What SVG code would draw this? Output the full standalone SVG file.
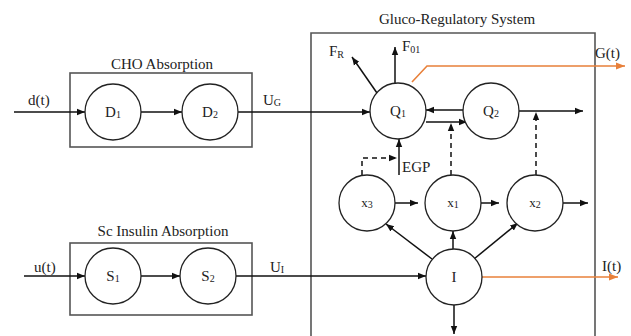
<svg xmlns="http://www.w3.org/2000/svg" width="631" height="336" viewBox="0 0 631 336">
  <defs>
    <marker id="arr" viewBox="0 0 10 10" refX="10" refY="5" markerWidth="8" markerHeight="8" markerUnits="userSpaceOnUse" orient="auto">
      <path d="M0,1 L10,5 L0,9 z" fill="#111"/>
    </marker>
    <marker id="arrO" viewBox="0 0 10 10" refX="10" refY="5" markerWidth="9" markerHeight="9" markerUnits="userSpaceOnUse" orient="auto">
      <path d="M0,1 L10,5 L0,9 z" fill="#e8803a"/>
    </marker>
  </defs>
  <style>
    text { font-family: "Liberation Serif", "Times New Roman", serif; fill: #222; }
    .title { font-size: 15px; text-anchor: middle; }
    .lbl { font-size: 15px; }
    .node { font-size: 15px; text-anchor: middle; }
    .sub { font-size: 10px; }
    .box { fill: none; stroke: #555; stroke-width: 1.6; }
    circle { fill: #fff; stroke: #222; stroke-width: 1.3; }
    .c { fill: none; stroke: #111; stroke-width: 1.5; }
    .d { fill: none; stroke: #111; stroke-width: 1.5; stroke-dasharray: 5 4; }
    .o { fill: none; stroke: #e8803a; stroke-width: 1.6; }
  </style>
  <rect width="631" height="336" fill="#fff"/>

  <!-- compartment boxes -->
  <g id="cho-box">
    <rect class="box" x="70" y="73" width="182" height="74"/>
    <text class="title" x="162" y="69">CHO Absorption</text>
  </g>
  <g id="sc-box">
    <rect class="box" x="70" y="243" width="182" height="72"/>
    <text class="title" x="163" y="236">Sc Insulin Absorption</text>
  </g>
  <g id="gluco-box">
    <path class="box" d="M311,340 V33 H595 V340"/>
    <text class="title" x="457" y="24">Gluco-Regulatory System</text>
  </g>

  <!-- connectors -->
  <g id="connectors">
    <line class="c" x1="14" y1="112" x2="85" y2="112" marker-end="url(#arr)"/>
    <line class="c" x1="141" y1="112" x2="182" y2="112" marker-end="url(#arr)"/>
    <line class="c" x1="238" y1="112" x2="370" y2="112" marker-end="url(#arr)"/>
    <line class="c" x1="24" y1="276" x2="85" y2="276" marker-end="url(#arr)"/>
    <line class="c" x1="141" y1="276" x2="180" y2="276" marker-end="url(#arr)"/>
    <line class="c" x1="236" y1="276" x2="426" y2="276" marker-end="url(#arr)"/>

    <!-- Q1 outflows -->
    <line class="c" x1="395" y1="83" x2="395" y2="47" marker-end="url(#arr)"/>
    <line class="c" x1="377" y1="93" x2="352" y2="57" marker-end="url(#arr)"/>
    <line class="c" x1="399" y1="175" x2="399" y2="139" marker-end="url(#arr)"/>
    <!-- Q1 / Q2 exchange -->
    <line class="c" x1="463" y1="110" x2="426" y2="110" marker-end="url(#arr)"/>
    <line class="c" x1="426" y1="122" x2="467" y2="122" marker-end="url(#arr)"/>
    <line class="c" x1="519" y1="111" x2="583" y2="111" marker-end="url(#arr)"/>

    <!-- remote insulin actions -->
    <path class="d" d="M362,175 V158 H397" marker-end="url(#arr)"/>
    <line class="d" x1="451" y1="175" x2="451" y2="123" marker-end="url(#arr)"/>
    <line class="d" x1="536" y1="175" x2="536" y2="112" marker-end="url(#arr)"/>

    <!-- action chain -->
    <line class="c" x1="395" y1="203" x2="418" y2="203" marker-end="url(#arr)"/>
    <line class="c" x1="481" y1="203" x2="499" y2="203" marker-end="url(#arr)"/>
    <line class="c" x1="563" y1="203" x2="588" y2="203" marker-end="url(#arr)"/>

    <!-- insulin effects -->
    <line class="c" x1="432" y1="259" x2="386" y2="224" marker-end="url(#arr)"/>
    <line class="c" x1="453" y1="249" x2="453" y2="231" marker-end="url(#arr)"/>
    <line class="c" x1="474" y1="259" x2="518" y2="223" marker-end="url(#arr)"/>
    <line class="c" x1="454" y1="305" x2="454" y2="334" marker-end="url(#arr)"/>

    <!-- measured outputs -->
    <path class="o" d="M412,82 L427,66 H625" marker-end="url(#arrO)"/>
    <line class="o" x1="482" y1="277" x2="618" y2="277" marker-end="url(#arrO)"/>
  </g>

  <!-- edge labels -->
  <text class="lbl" x="28" y="105">d(t)</text>
  <text class="lbl" x="263" y="105">U<tspan class="sub" dy="1">G</tspan></text>
  <text class="lbl" x="34" y="272">u(t)</text>
  <text class="lbl" x="270" y="272">U<tspan class="sub" dy="1">I</tspan></text>
  <text class="lbl" x="329" y="56">F<tspan class="sub" dy="2">R</tspan></text>
  <text class="lbl" x="402" y="51">F<tspan class="sub" dy="2">01</tspan></text>
  <text class="lbl" x="595" y="58">G(t)</text>
  <text class="lbl" x="402" y="172">EGP</text>
  <text class="lbl" x="602" y="271">I(t)</text>

  <!-- nodes -->
  <g id="D1"><circle cx="113" cy="112" r="28"/><text class="node" x="113" y="117">D<tspan class="sub" dy="1">1</tspan></text></g>
  <g id="D2"><circle cx="210" cy="112" r="28"/><text class="node" x="210" y="117">D<tspan class="sub" dy="1">2</tspan></text></g>
  <g id="S1"><circle cx="113" cy="276" r="28"/><text class="node" x="113" y="281">S<tspan class="sub" dy="1">1</tspan></text></g>
  <g id="S2"><circle cx="208" cy="276" r="28"/><text class="node" x="208" y="281">S<tspan class="sub" dy="1">2</tspan></text></g>
  <g id="Q1"><circle cx="398" cy="111" r="28"/><text class="node" x="398" y="116">Q<tspan class="sub" dy="1">1</tspan></text></g>
  <g id="Q2"><circle cx="491" cy="111" r="28"/><text class="node" x="491" y="116">Q<tspan class="sub" dy="1">2</tspan></text></g>
  <g id="x3"><circle cx="367" cy="203" r="28"/><text class="node" x="367" y="207" style="font-size:13px">x<tspan class="sub" dy="1">3</tspan></text></g>
  <g id="x1"><circle cx="453" cy="203" r="28"/><text class="node" x="453" y="207" style="font-size:13px">x<tspan class="sub" dy="1">1</tspan></text></g>
  <g id="x2"><circle cx="535" cy="203" r="28"/><text class="node" x="535" y="207" style="font-size:13px">x<tspan class="sub" dy="1">2</tspan></text></g>
  <g id="I"><circle cx="454" cy="277" r="28"/><text class="node" x="454" y="282">I</text></g>
</svg>
